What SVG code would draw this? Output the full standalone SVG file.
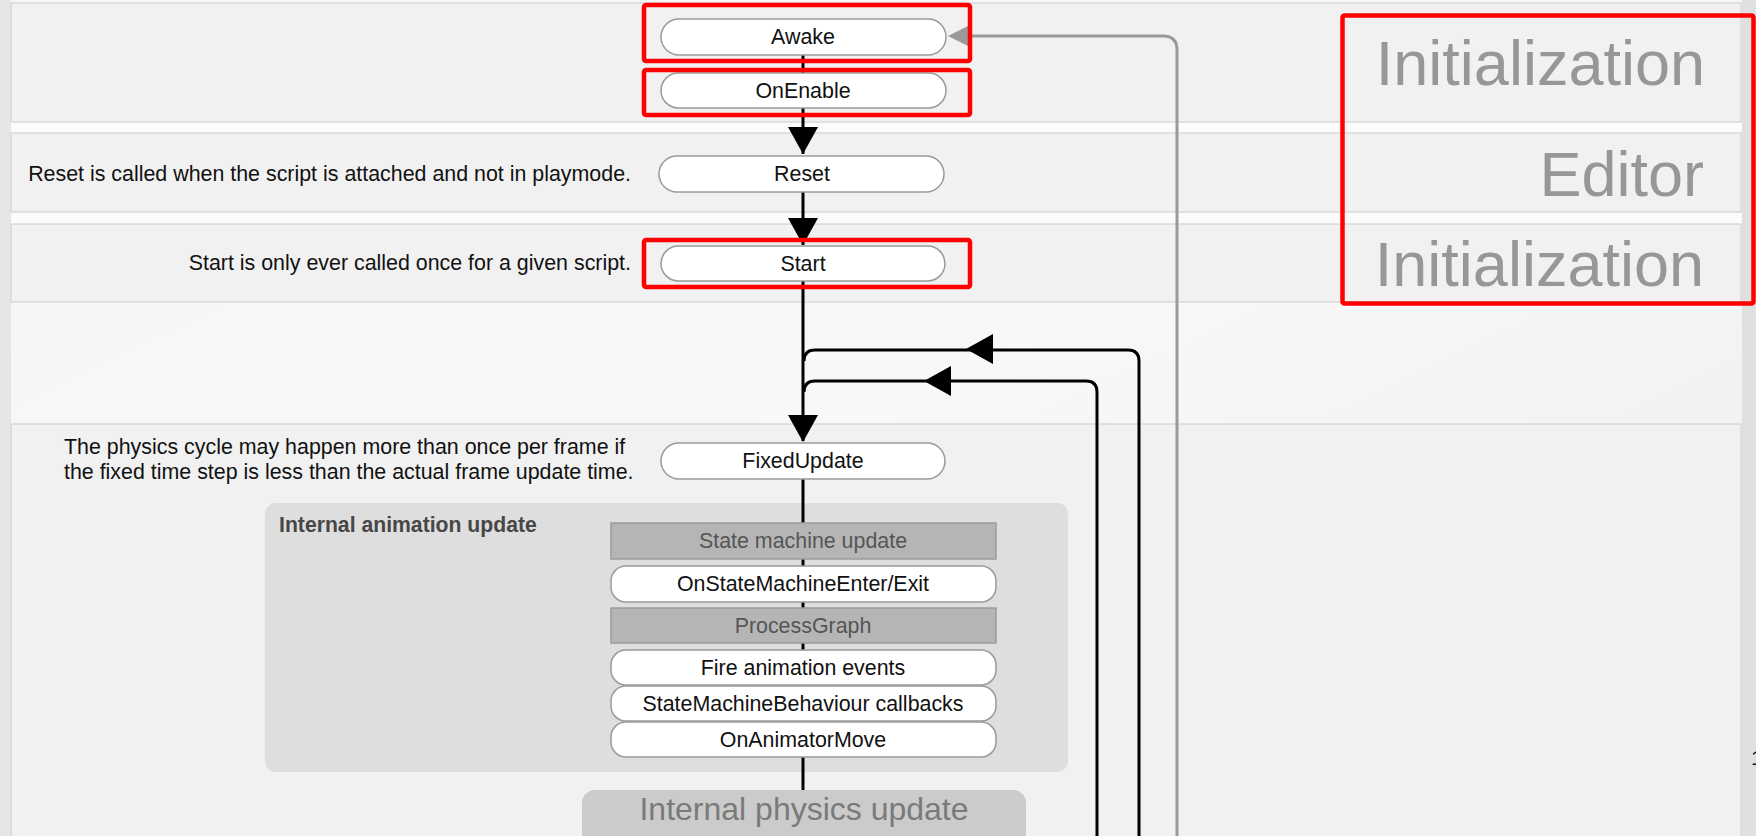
<svg xmlns="http://www.w3.org/2000/svg" xmlns:xlink="http://www.w3.org/1999/xlink" width="1756" height="836" viewBox="0 0 1756 836">
  <style>
    .lbl { font-family: "Liberation Sans", Arial, Helvetica, sans-serif; font-size: 21.4px; fill: #111; text-anchor: middle; }
    .note { font-family: "Liberation Sans", Arial, Helvetica, sans-serif; font-size: 21.4px; fill: #111; }
    .grey { fill: #555; }
    .phase { font-family: "Liberation Sans", Arial, Helvetica, sans-serif; font-size: 63px; fill: #979797; text-anchor: end; }
    .pill { fill: #fff; stroke: #9a9a9a; stroke-width: 1.5; }
    .bar { fill: #b5b5b5; stroke: #9c9c9c; stroke-width: 1.5; }
    .panel { fill: #f1f1f1; stroke: #d2d2d2; stroke-width: 1.2; }
    .hl { fill: none; stroke: #ff0000; stroke-width: 4.5; }
    .flow { fill: none; stroke: #000; stroke-width: 3; }
    .ret { fill: none; stroke: #9a9a9a; stroke-width: 3; }
  </style>
  <defs>
    <linearGradient id="bg" x1="0" y1="0" x2="1" y2="1">
      <stop offset="0" stop-color="#f6f6f6"/>
      <stop offset="0.5" stop-color="#f8f8f8"/>
      <stop offset="1" stop-color="#ececec"/>
    </linearGradient>
    <!-- arrow head pointing down, tip at the origin -->
    <path id="head" d="M0,0 L-15,-27 L15,-27 Z"/>
    <path id="headSmall" d="M0,0 L-12,-24 L12,-24 Z"/>
  </defs>

  <!-- page background -->
  <rect x="0" y="0" width="1756" height="836" fill="url(#bg)"/>
  <rect x="0" y="0" width="11" height="836" fill="#e6e6e6"/>
  <rect x="1742" y="0" width="14" height="836" fill="#e0e0e0"/>
  <rect x="11" y="122" width="1731" height="11" fill="#fbfbfb"/>
  <rect x="11" y="212" width="1731" height="12" fill="#fbfbfb"/>

  <!-- section panels -->
  <g id="panels">
    <rect class="panel" x="11" y="3" width="1730" height="119"/>
    <rect class="panel" x="11" y="133" width="1730" height="79"/>
    <rect class="panel" x="11" y="224" width="1730" height="78"/>
    <rect class="panel" x="11" y="424" width="1730" height="420"/>
  </g>

  <!-- descriptions -->
  <g id="notes">
    <text class="note" x="631" y="181" text-anchor="end">Reset is called when the script is attached and not in playmode.</text>
    <text class="note" x="631" y="270" text-anchor="end">Start is only ever called once for a given script.</text>
    <text class="note" x="64" y="454">The physics cycle may happen more than once per frame if</text>
    <text class="note" x="64" y="479">the fixed time step is less than the actual frame update time.</text>
  </g>

  <!-- phase labels -->
  <g id="phases">
    <text class="phase" x="1705" y="85">Initialization</text>
    <text class="phase" x="1704" y="196">Editor</text>
    <text class="phase" x="1704" y="286">Initialization</text>
  </g>

  <!-- internal animation update container -->
  <g id="anim-group">
    <rect x="265" y="503" width="803" height="269" rx="11" fill="#dedede"/>
    <text x="279" y="532" font-family="Liberation Sans, Arial, sans-serif" font-size="21.2" font-weight="bold" fill="#474747">Internal animation update</text>
  </g>

  <!-- connectors -->
  <g id="connectors">
    <path class="flow" d="M803,55 V73"/>
    <path class="flow" d="M803,108 V154"/>
    <path class="flow" d="M803,192 V245"/>
    <path class="flow" d="M803,281 V441"/>
    <path class="flow" d="M803,479 V523"/>
    <path class="flow" d="M803,559 V566"/>
    <path class="flow" d="M803,602 V608"/>
    <path class="flow" d="M803,643 V650"/>
    <path class="flow" d="M803,757 V790"/>
    <path class="flow" d="M803,834 V836"/>
    <use xlink:href="#head" transform="translate(803,154)"/>
    <use xlink:href="#head" transform="translate(803,245)"/>
    <use xlink:href="#head" transform="translate(803,442)"/>
    <!-- repeat loops -->
    <path class="flow" d="M1139,836 V361 Q1139,350 1128,350 H815 Q804,350 804,361"/>
    <path class="flow" d="M1097,836 V392 Q1097,381 1086,381 H815 Q804,381 804,392"/>
    <use xlink:href="#head" transform="translate(966,349) rotate(90)"/>
    <use xlink:href="#head" transform="translate(924,381) rotate(90)"/>
    <!-- return to Awake -->
    <path class="ret" d="M1177,836 V50 Q1177,36 1163,36 H970"/>
    <use xlink:href="#headSmall" fill="#9a9a9a" transform="translate(948,36) rotate(90)"/>
  </g>

  <!-- event nodes -->
  <g id="awake"><rect class="pill" x="661" y="19" width="285" height="36" rx="18"/><text class="lbl" x="803" y="44">Awake</text></g>
  <g id="onenable"><rect class="pill" x="661" y="73" width="285" height="35" rx="17.5"/><text class="lbl" x="803" y="98">OnEnable</text></g>
  <g id="reset"><rect class="pill" x="659" y="156" width="285" height="36" rx="18"/><text class="lbl" x="802" y="181">Reset</text></g>
  <g id="start"><rect class="pill" x="661" y="246" width="284" height="35" rx="17.5"/><text class="lbl" x="803" y="271">Start</text></g>
  <g id="fixedupdate"><rect class="pill" x="661" y="443" width="284" height="36" rx="18"/><text class="lbl" x="803" y="468">FixedUpdate</text></g>
  <g id="state-machine-update"><rect class="bar" x="611" y="523" width="385" height="36"/><text class="lbl grey" x="803" y="548">State machine update</text></g>
  <g id="onstatemachine"><rect class="pill" x="611" y="566" width="385" height="36" rx="15"/><text class="lbl" x="803" y="591">OnStateMachineEnter/Exit</text></g>
  <g id="processgraph"><rect class="bar" x="611" y="608" width="385" height="35"/><text class="lbl grey" x="803" y="633">ProcessGraph</text></g>
  <g id="fire-events"><rect class="pill" x="611" y="650" width="385" height="35" rx="15"/><text class="lbl" x="803" y="675">Fire animation events</text></g>
  <g id="smb-callbacks"><rect class="pill" x="611" y="686" width="385" height="35" rx="15"/><text class="lbl" x="803" y="711">StateMachineBehaviour callbacks</text></g>
  <g id="onanimatormove"><rect class="pill" x="611" y="722" width="385" height="35" rx="15"/><text class="lbl" x="803" y="747">OnAnimatorMove</text></g>
  <g id="internal-physics"><rect x="582" y="790" width="444" height="60" rx="13" fill="#cbcbcb"/><text x="804" y="820" font-family="Liberation Sans, Arial, sans-serif" font-size="32" fill="#7a7a7a" text-anchor="middle">Internal physics update</text></g>

  <!-- highlight frames -->
  <g id="highlights">
    <rect class="hl" x="644" y="5" width="326" height="56" rx="2"/>
    <rect class="hl" x="644" y="70" width="326" height="45" rx="2"/>
    <rect class="hl" x="644" y="240" width="326" height="47" rx="2"/>
    <rect class="hl" x="1342.5" y="15.5" width="411" height="288" rx="2"/>
  </g>

  <!-- page number, clipped by the page edge -->
  <text x="1751" y="765" font-family="Liberation Sans, Arial, sans-serif" font-size="21" fill="#111">1</text>
</svg>
